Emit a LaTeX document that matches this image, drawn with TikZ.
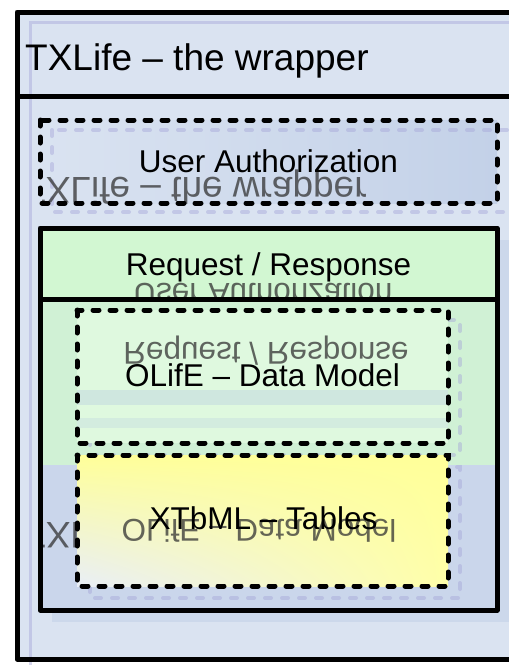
\documentclass[tikz,border=0pt]{standalone}
\usepackage{fontspec}
\setmainfont{Liberation Sans}
\usetikzlibrary{shadings}
\begin{document}
\begin{tikzpicture}[x=1pt,y=-1pt,
  frame/.style={draw=black,line width=5pt,line join=round},
  dashbox/.style={draw=black,line width=5pt,line cap=round,dash pattern=on 6pt off 11pt},
  ghost/.style={draw=blue!40!gray!50,line width=3pt,opacity=0.45},
  ghostdash/.style={draw=blue!40!gray!50,line width=4pt,line cap=round,dash pattern=on 6pt off 11pt,opacity=0.45},
  lbl/.style={font=\fontsize{31.5}{36}\selectfont,anchor=base,inner sep=0pt},
  hlbl/.style={font=\fontsize{37}{40}\selectfont,anchor=base west,inner sep=0pt},
  mirror/.style={text=black!80,opacity=0.75,inner sep=0pt}]
\definecolor{bgblue}{HTML}{DAE3F1}
\definecolor{midblue}{HTML}{C3D1E8}
\definecolor{lgreen}{HTML}{D2F7D2}
\definecolor{lyellow}{HTML}{FFFF99}
\useasboundingbox (0,0) rectangle (509,665);
% outer wrapper
\fill[white] (0,0) rectangle (509,665);
\fill[bgblue] (17,12) rectangle (530,659);
\draw[ghost] (30,22) rectangle (530,670);
% user authorization
\shade[left color=bgblue,right color=midblue] (40,120) rectangle (497,203);
\draw[ghostdash] (52,130) rectangle (512,212);
\begin{scope}
  \clip (42,120) rectangle (497,203);
  \node[mirror,font=\fontsize{37}{40}\selectfont,anchor=base west] (g1) at (23,177) {\scalebox{1}[-1]{TXLife – the wrapper}};
\end{scope}
% request/response
\fill[midblue,opacity=0.6] (52,240) rectangle (512,622);
\fill[lgreen] (40,228) rectangle (497,299);
\fill[lgreen!85!midblue] (40,299) rectangle (497,465);
\fill[midblue!70!bgblue] (40,465) rectangle (497,610);
\begin{scope}
  \clip (40,228) rectangle (497,299);
  \node[mirror,font=\fontsize{31.5}{36}\selectfont,anchor=base] (g2) at (263,283) {\scalebox{1}[-1]{User Authorization}};
\end{scope}
\begin{scope}
  \clip (42,455) rectangle (77,586);
  \node[mirror,font=\fontsize{37}{40}\selectfont,anchor=base west] (g5) at (23,522) {\scalebox{1}[-1]{TXLife – the wrapper}};
\end{scope}
% OLifE
\draw[ghostdash] (90,320) rectangle (460,455);
\fill[lgreen!70!white] (77,310) rectangle (448,443);
\fill[midblue!60!lgreen,opacity=0.7] (77,390) rectangle (448,405);
\fill[midblue!60!lgreen,opacity=0.5] (77,418) rectangle (448,428);
\begin{scope}
  \clip (77,310) rectangle (448,443);
  \node[mirror,font=\fontsize{31.5}{36}\selectfont,anchor=base] (g3) at (266,342) {\scalebox{1}[-1]{Request / Response}};
\end{scope}
% XTbML
\draw[ghostdash] (90,467) rectangle (460,598);
\shade[upper left=lyellow,upper right=lyellow,lower right=lyellow!85!white,lower left=bgblue!60!white] (77,455) rectangle (448,586);
\begin{scope}
  \clip (77,455) rectangle (448,586);
  \node[mirror,font=\fontsize{31.5}{36}\selectfont,anchor=base] (g4) at (259,519) {\scalebox{1}[-1]{OLifE – Data Model}};
\end{scope}
% frames
\draw[frame] (17,12) rectangle (530,659);
\draw[frame] (17,96) -- (530,96);
\draw[frame] (40,228) rectangle (497,610);
\draw[frame] (40,299) -- (497,299);
\draw[dashbox] (40,120) rectangle (497,203);
\draw[dashbox] (77,310) rectangle (448,443);
\draw[dashbox] (77,455) rectangle (448,586);
% labels
\node[hlbl] (tx) at (25,70) {TXLife – the wrapper};
\node[lbl] (uat) at (268.5,172) {User Authorization};
\node[lbl] (rr) at (268.5,275) {Request / Response};
\node[lbl] (ol) at (262.5,386) {OLifE – Data Model};
\node[lbl] (xt) at (263.5,529) {XTbML – Tables};
\end{tikzpicture}
\end{document}
